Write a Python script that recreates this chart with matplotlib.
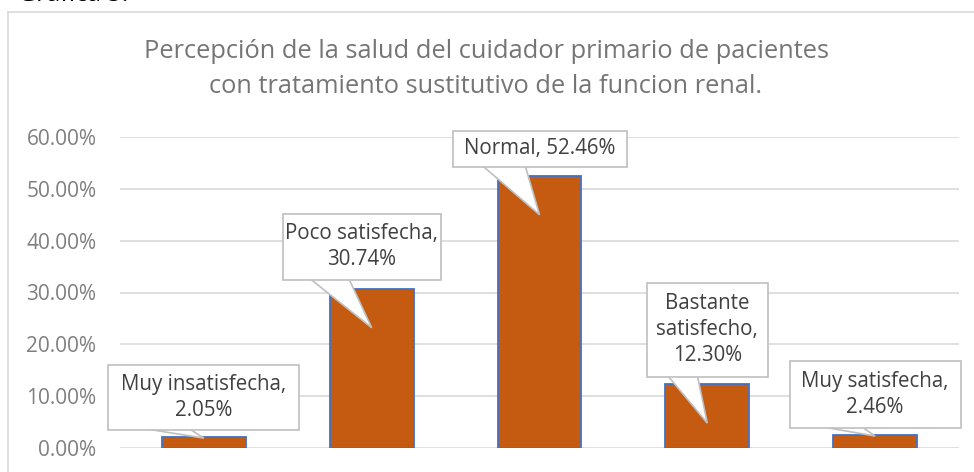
import matplotlib.pyplot as plt
from matplotlib.patches import Rectangle, Polygon
from matplotlib.lines import Line2D
from matplotlib.ticker import FuncFormatter

plt.rcParams['font.family'] = ['Open Sans', 'DejaVu Sans']

categories = ['Muy insatisfecha', 'Poco satisfecha', 'Normal',
              'Bastante satisfecho', 'Muy satisfecha']
values = [0.0205, 0.3074, 0.5246, 0.1230, 0.0246]
label_texts = ['Muy insatisfecha,\n2.05%', 'Poco satisfecha,\n30.74%',
               'Normal, 52.46%', 'Bastante\nsatisfecho,\n12.30%',
               'Muy satisfecha,\n2.46%']

# callout layout: box centre (x offset in categories, y in data), box size in px, tip y
box_dx = [0.0, -0.06, 0.0, 0.0, 0.0]
box_cy = [0.0975, 0.388, 0.577, 0.228, 0.103]
box_w = [191, 158, 174, 121, 171]
box_h = [65, 66, 36, 94, 67]
tip_y = [0.019, 0.232, 0.45, 0.048, 0.023]

W, H = 974, 472
fig = plt.figure(figsize=(W / 100, H / 100), dpi=100)
ax = fig.add_axes([120 / W, 24 / H, 839 / W, 311 / H])
ax.set_xlim(-0.5, 4.5)
ax.set_ylim(0, 0.6)
px_x = 5 / 839
px_y = 0.6 / 311

x = list(range(len(categories)))
ax.bar(x, values, width=0.5, color='#c55a11', edgecolor='#4472c4',
       linewidth=1.3, zorder=2)

ax.set_yticks([0, 0.1, 0.2, 0.3, 0.4, 0.5, 0.6])
ax.yaxis.set_major_formatter(FuncFormatter(lambda v, p: f'{v:.2%}'))
ax.grid(axis='y', color='#d9d9d9', linewidth=1.2, zorder=0)
ax.set_axisbelow(True)
ax.set_xticks([])
ax.tick_params(axis='y', length=0, pad=17, labelsize=15, labelcolor='#7f7f7f')
for s in ax.spines.values():
    s.set_visible(False)

# callouts
for i, txt in enumerate(label_texts):
    cx = x[i] + box_dx[i]
    cy = box_cy[i]
    w = box_w[i] * px_x
    h = box_h[i] * px_y
    left = cx - w / 2
    bottom = cy - h / 2
    tri = Polygon([(left + w / 6, bottom + 2 * px_y), (x[i], tip_y[i]),
                   (left + w * 5 / 12, bottom + 2 * px_y)],
                  closed=True, facecolor='white', edgecolor='#bfbfbf',
                  linewidth=1.2, zorder=3, clip_on=False)
    ax.add_patch(tri)
    ax.add_patch(Rectangle((left, bottom), w, h, facecolor='white',
                           edgecolor='#bfbfbf', linewidth=1.2, zorder=4,
                           clip_on=False))
    # cover the base of the wedge
    ax.add_patch(Rectangle((left + w / 6 + 1.5 * px_x, bottom + 0.8 * px_y),
                           w / 4 - 3 * px_x, 3 * px_y, facecolor='white',
                           edgecolor='none', zorder=5, clip_on=False))
    ax.text(cx, cy, txt, ha='center', va='center', fontsize=14.8,
            color='#404040', linespacing=1.32, zorder=6)

fig.text(486 / W, 1 - 69 / H,
         'Percepción de la salud del cuidador primario de pacientes\n'
         'con tratamiento sustitutivo de la funcion renal.',
         ha='center', va='center', fontsize=18.3, color='#757575',
         linespacing=1.5)

# chart frame and cut-off caption above it
fig.add_artist(Line2D([8 / W, 8 / W], [0, 1 - 12 / H], transform=fig.transFigure,
                      color='#d9d9d9', linewidth=1.2))
fig.add_artist(Line2D([8 / W, 1], [1 - 12 / H, 1 - 12 / H], transform=fig.transFigure,
                      color='#d9d9d9', linewidth=1.2))
fig.text(18 / W, 1 - 1 / H, 'Gráfica 5:', ha='left', va='baseline',
         fontsize=18, color='black')

fig.savefig('out.png', dpi=100)
